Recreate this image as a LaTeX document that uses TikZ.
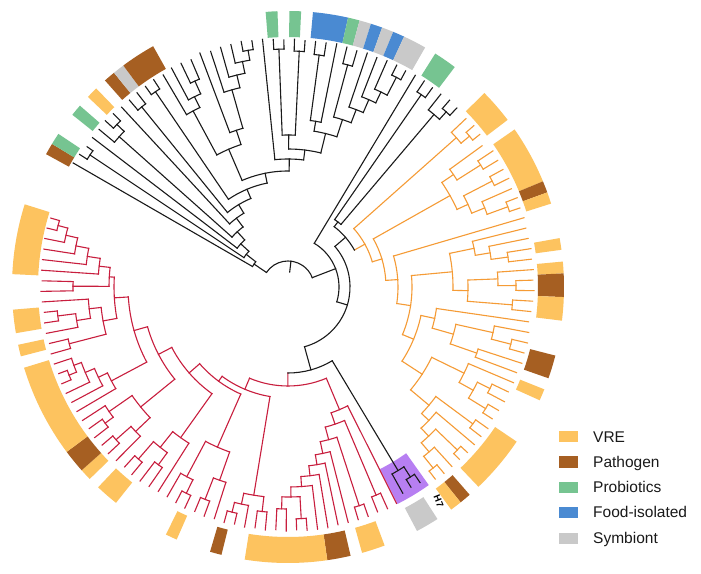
\documentclass[tikz,border=0pt]{standalone}
\usepackage{fontspec}
\setmainfont{Liberation Sans}
\definecolor{orng}{HTML}{F59B35}
\definecolor{redc}{HTML}{C81E3E}
\definecolor{blk}{HTML}{1A1A1A}
\definecolor{vre}{HTML}{FDC35F}
\definecolor{pathc}{HTML}{A65F22}
\definecolor{prob}{HTML}{76C491}
\definecolor{food}{HTML}{4A8AD2}
\definecolor{symb}{HTML}{C9C9C9}
\definecolor{purp}{HTML}{B77FF2}
\tikzset{treeline/.style={line width=1.1pt, line cap=rect}}
\newcount\trdep
\newcount\trleaf
\def\curA{150}
\def\stepA{2.46}
\def\tcol{blk}
\newcommand\trO[1]{%
  \global\advance\trdep by 1
  \expandafter\xdef\csname trR\the\trdep\endcsname{#1}%
  \expandafter\xdef\csname trK\the\trdep\endcsname{\tcol}%
  \expandafter\gdef\csname trF\the\trdep\endcsname{}%
  \expandafter\gdef\csname trE\the\trdep\endcsname{}%
}
\newcommand\trchild[3]{%
  \edef\trpr{\csname trR\the\trdep\endcsname}%
  \draw[treeline, draw=#3] (#1:\trpr pt) -- (#1:#2pt);
  \expandafter\ifx\csname trF\the\trdep\endcsname\empty
    \expandafter\xdef\csname trF\the\trdep\endcsname{#1}%
  \fi
  \expandafter\xdef\csname trE\the\trdep\endcsname{#1}%
}
\newcommand\trL[1]{%
  \global\advance\trleaf by 1
  \expandafter\xdef\csname trLA\the\trleaf\endcsname{\curA}%
  \trchild{\curA}{#1}{\tcol}%
  \pgfmathsetmacro\trtmp{\curA-\stepA}%
  \xdef\curA{\trtmp}%
}
\newcommand\trGap[1]{\pgfmathsetmacro\trtmp{\curA-#1}\xdef\curA{\trtmp}}
\newcommand\trC{%
  \edef\trnr{\csname trR\the\trdep\endcsname}%
  \edef\trfa{\csname trF\the\trdep\endcsname}%
  \edef\trea{\csname trE\the\trdep\endcsname}%
  \edef\trnc{\csname trK\the\trdep\endcsname}%
  \draw[treeline, draw=\trnc] (\trfa:\trnr pt) arc[start angle=\trfa, end angle=\trea, radius=\trnr pt];
  \pgfmathsetmacro\trma{(\trfa+\trea)/2}%
  \global\advance\trdep by -1
  \ifnum\trdep>0
    \trchild{\trma}{\trnr}{\trnc}%
  \else
    \draw[treeline, draw=\trnc] (\trma:15pt) -- (\trma:\trnr pt);
  \fi
}
\newcommand\trBar[3]{%
  \edef\tba{\csname trLA#1\endcsname}\edef\tbb{\csname trLA#2\endcsname}%
  \pgfmathsetmacro\tbs{\tba+\stepA/2}\pgfmathsetmacro\tbe{\tbb-\stepA/2}%
  \fill[#3] (\tbs:250pt) arc[start angle=\tbs, end angle=\tbe, radius=250pt]
     -- (\tbe:276pt) arc[start angle=\tbe, end angle=\tbs, radius=276pt] -- cycle;}
\begin{document}
\begin{tikzpicture}[x=1pt,y=1pt]
\fill[white] (0,0) rectangle (701,573);
\useasboundingbox (0,0) rectangle (701,573);
\begin{scope}[shift={(288,286)}]
% purple H7 box
\fill[purp] (-54.6:204pt) arc[start angle=-54.6, end angle=-63.2, radius=204pt]
   -- (-63.2:243pt) arc[start angle=-63.2, end angle=-54.6, radius=243pt] -- cycle;
\trO{26}% ROOT
% ===== black big clade
\trO{41}% N1
 \trL{248}% 1
 \trO{53}% N2
  \trO{238}\trL{247}\trL{245}\trC% 2,3
  \trO{64}% N3
   \trL{246}% 4
   \trO{75}% N4
    \trO{226}\trL{246}\trO{236}\trL{247}\trL{246}\trC\trC% 5-7
    \trO{86}% N5
     \trL{245}% 8
     \trO{96}% N6
      \trO{232}\trL{245}\trL{246}\trC% 9,10
      \trO{106}% N7
       \trO{236}\trL{246}\trL{247}\trC% 11,12
       \trO{116}% crown
        \trO{150}% CladeA
         \trO{200}\trL{246}\trO{212}\trL{248}\trO{226}\trL{248}\trL{247}\trC\trC\trC% 13-16
         \trO{165}\trL{250}% 17
          \trO{205}\trL{248}\trO{218}\trL{249}\trO{230}\trL{249}\trO{240}\trL{250}\trL{249}\trC\trC\trC\trC% 18-22
         \trC
        \trC
        \trO{128}% CladeB
         \trL{249}% 23
         \trO{138}
          \trO{152}\trO{238}\trL{248}\trL{247}\trC\trO{236}\trL{248}\trL{247}\trC\trC% 24-27
          \trO{158}
           \trO{168}\trO{234}\trL{247}\trL{247}\trC\trL{248}\trC% 28-30
           \trO{176}
            \trO{230}\trL{247}\trL{246}\trC% 31,32
            \trO{190}\trL{247}% 33
             \trO{204}\trL{246}% 34
              \trO{216}\trL{247}% 35
               \trO{236}\trL{247}\trL{246}\trC% 36,37
              \trC
             \trC
            \trC
           \trC
          \trC
         \trC
        \trC
       \trC
      \trC
     \trC
    \trC
   \trC
  \trC
 \trC
\trC% N1
% ===== R
\trO{51}% R
 \trL{247}% 38
 \trO{62}% X
  \trO{76}% W
   \trO{82}% S
    \trO{234}\trL{247}\trL{246}\trC% 39,40
    \trO{226}\trL{246}\trO{236}\trL{247}\trL{246}\trC\trC% 41-43
   \trC
   \trGap{0.8}%
   \def\tcol{orng}%
   \trO{88}% O1
    \trO{225}\trL{245}\trO{236}\trL{246}\trL{245}\trC\trC% 44-46
    \trO{98}% O1b
     \trO{186}% OB
      \trO{200}\trL{240}\trO{228}\trL{246}\trL{245}\trC\trC
      \trO{198}\trO{230}\trL{245}\trL{246}\trC\trO{212}\trL{244}\trO{234}\trL{246}\trL{245}\trC\trC\trC
     \trC
     \trO{110}% O2
      \trL{246}% k12
      \trO{124}% O3
       \trO{165}% OC
        \trO{190}\trL{245}\trO{205}\trL{245}\trO{222}\trL{246}\trL{245}\trC\trC\trC
        \trO{180}\trO{210}\trL{246}\trO{228}\trL{245}\trL{246}\trC\trC\trO{225}\trL{245}\trL{244}\trC\trC
       \trC
       \trO{136}% O4
        \trO{150}\trL{243}\trO{172}\trO{210}\trL{245}\trO{230}\trL{246}\trL{245}\trC\trC\trO{200}\trL{246}\trL{244}\trC\trC\trC
        \trO{160}% O6
         \trO{196}\trL{245}\trO{212}\trO{226}\trL{244}\trL{245}\trC\trO{232}\trL{244}\trL{243}\trC\trC\trC
         \trO{184}% O7
          \trO{230}\trL{245}\trL{244}\trC
          \trO{194}\trL{244}
           \trO{205}\trO{235}\trL{244}\trL{243}\trC
            \trO{217}\trL{243}\trO{232}\trL{243}\trL{242}\trC\trC
           \trC
          \trC
         \trC
        \trC
       \trC
      \trC
     \trC
    \trC
   \trC% O1
   \def\tcol{blk}%
  \trC% W
  \trO{86}% Z
   \trGap{1.0}%
   \trO{214}\trO{226}\trL{236}\trL{235}\trC\trL{236}\trC% H7
   \def\tcol{redc}%
   \trO{99}% red root
    \trO{133}% RR
     \trL{242}
     \trO{145}\trO{226}\trL{243}\trL{242}\trC
      \trO{158}\trO{230}\trL{243}\trL{243}\trC
       \trO{170}\trL{243}
        \trO{180}\trL{243}
         \trO{190}\trL{244}
          \trO{200}\trL{244}
           \trO{210}\trO{232}\trL{244}\trL{243}\trC
            \trO{222}\trL{244}\trL{243}\trC
           \trC
          \trC
         \trC
        \trC
       \trC
      \trC
     \trC
    \trC% RR
    \trO{111}% L1
     \trO{211}\trO{226}\trL{244}\trL{243}\trC\trO{222}\trL{244}\trO{232}\trL{243}\trL{244}\trC\trC\trC
     \trO{117}% L2
      \trO{175}\trO{205}\trL{243}\trO{228}\trL{244}\trL{243}\trC\trC\trO{215}\trO{230}\trL{244}\trL{243}\trC\trL{242}\trC\trC
      \trO{131}% L3
       \trO{185}\trL{242}\trO{205}\trO{220}\trL{243}\trL{244}\trC\trO{228}\trL{244}\trL{243}\trC\trC\trC
       \trO{146}% L4
        \trO{190}\trO{210}\trL{244}\trO{230}\trL{245}\trL{244}\trC\trC\trO{218}\trO{228}\trL{245}\trL{244}\trC\trL{245}\trC\trC
        \trO{160}% L4b
         \trO{200}\trL{245}\trO{210}\trL{245}\trO{220}\trL{246}\trO{228}\trO{236}\trL{246}\trL{245}\trC\trL{246}\trC\trC\trC\trC
         \trO{174}% L5
          \trO{188}\trO{226}\trL{246}\trL{245}\trC\trO{200}\trO{214}\trL{246}\trO{232}\trL{246}\trL{245}\trC\trC\trL{246}\trC\trC
          \trO{179}\trO{215}\trL{247}\trL{246}\trC\trO{190}\trL{247}\trO{203}\trL{247}\trO{216}\trL{247}\trO{228}\trL{248}\trO{238}\trL{248}\trL{247}\trC\trC\trC\trC\trC\trC
         \trC
        \trC
       \trC
      \trC
     \trC
    \trC% L1
   \trC% red root
   \def\tcol{blk}%
  \trC% Z
 \trC% X
\trC% R
\trC% ROOT
% ===== bars
\trBar{1}{1}{pathc}\trBar{2}{2}{prob}\trBar{5}{5}{prob}\trBar{7}{7}{vre}
\trBar{9}{9}{pathc}\trBar{10}{10}{symb}\trBar{11}{13}{pathc}
\trBar{24}{24}{prob}\trBar{26}{26}{prob}\trBar{28}{30}{food}\trBar{31}{31}{prob}
\trBar{32}{32}{symb}\trBar{33}{33}{food}\trBar{34}{34}{symb}\trBar{35}{35}{food}
\trBar{36}{37}{symb}\trBar{39}{40}{prob}
\trBar{44}{46}{vre}\trBar{48}{52}{vre}\trBar{53}{53}{pathc}\trBar{54}{54}{vre}
\trBar{58}{58}{vre}\trBar{60}{60}{vre}\trBar{61}{62}{pathc}\trBar{63}{64}{vre}
\trBar{68}{69}{pathc}\trBar{71}{71}{vre}\trBar{76}{80}{vre}\trBar{82}{82}{pathc}\trBar{83}{83}{vre}
\trBar{85}{86}{symb}
\trBar{90}{91}{vre}\trBar{93}{94}{pathc}\trBar{95}{101}{vre}\trBar{104}{104}{pathc}
\trBar{108}{108}{vre}\trBar{114}{115}{vre}\trBar{117}{117}{vre}\trBar{118}{119}{pathc}
\trBar{120}{127}{vre}\trBar{129}{129}{vre}\trBar{131}{132}{vre}\trBar{136}{141}{vre}
\node[font=\bfseries\fontsize{9.5}{11}\selectfont, rotate=-68, inner sep=0pt] (h7) at (-54.9:262pt) {H7};
\end{scope}
% ===== legend
\tikzset{legbox/.style={minimum width=19pt, minimum height=11pt, inner sep=0pt, draw=none},
         legtxt/.style={anchor=base west, inner sep=0pt, font=\fontsize{15.5}{18}\selectfont, text=blk}}
\node[legbox, fill=vre]   (k1) at (568.5,136) {};
\node[legbox, fill=pathc] (k2) at (568.5,111) {};
\node[legbox, fill=prob]  (k3) at (568.5,86) {};
\node[legbox, fill=food]  (k4) at (568.5,61) {};
\node[legbox, fill=symb]  (k5) at (568.5,35) {};
\node[legtxt] (t1) at (593,130.5) {VRE};
\node[legtxt] (t2) at (593,105.5) {Pathogen};
\node[legtxt] (t3) at (593,80.5) {Probiotics};
\node[legtxt] (t4) at (593,55.5) {Food-isolated};
\node[legtxt] (t5) at (593,29.5) {Symbiont};
\end{tikzpicture}
\end{document}
